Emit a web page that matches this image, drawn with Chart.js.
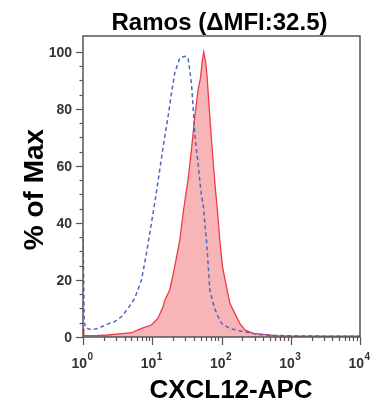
<!DOCTYPE html>
<html>
<head>
<meta charset="utf-8">
<script src="https://cdn.jsdelivr.net/npm/chart.js@4.4.1/dist/chart.umd.min.js"></script>
<style>
  html, body { margin: 0; padding: 0; background: #fff; }
  canvas { display: block; }
</style>
</head>
<body>
<canvas id="histChart" width="376" height="406"></canvas>
<script>
// Histogram data (CXCL12-APC intensity vs % of Max)
const isoX = [1.0, 1.04, 1.08, 1.32, 1.65, 2.3, 2.87, 3.59, 4.47, 5.59, 6.98, 7.36, 8.25, 9.2, 10.27, 11.24, 13.58, 15.17, 16.92, 18.94, 21.13, 24.98, 29.5, 32.9, 34.8, 36.8, 38.9, 41.1, 43.5, 45.9, 48.5, 51.4, 54.2, 57.4, 60.7, 64.0, 67.8, 75.6, 84.7, 100, 131.9, 205, 320, 499, 1000, 3000, 10000];
const isoY = [37, 6, 3.3, 2.5, 3.0, 4.6, 5.4, 7.1, 10, 13.6, 20, 22.9, 29.4, 36.4, 43.4, 49.3, 62.7, 70.3, 77.3, 85.5, 92.6, 97.9, 98.5, 97.9, 93.7, 89, 80.8, 71.5, 65.6, 61, 55.1, 49.3, 46.9, 39.9, 34, 25.9, 16.5, 11.8, 8.3, 4.8, 3.0, 1.9, 1.0, 0.6, 0.4, 0.3, 0.3];

const cxclX = [1.0, 1.03, 1.5, 2.3, 4.0, 5.0, 7.0, 9.7, 12.1, 14.3, 15.2, 17.9, 21.1, 25.0, 27.9, 31.2, 32.9, 36.8, 41.1, 45.9, 49.7, 53.1, 55.5, 59.3, 61.9, 66.2, 71.7, 77.4, 82.7, 86.4, 94.5, 103.3, 118, 132, 155.7, 183.8, 217, 286, 399, 600, 1000, 10000];
const cxclY = [3, 0.6, 0.5, 0.7, 1.3, 1.5, 3.0, 4.2, 6.6, 10.6, 13, 16.5, 24.7, 34, 43.4, 51.6, 55.1, 65.6, 77.3, 86.7, 90.8, 97.3, 100, 96, 91.4, 80.8, 69.1, 58.6, 50.4, 45.7, 34, 24.7, 17.7, 11.8, 8.3, 4.8, 2.5, 1.3, 0.9, 0.5, 0.3, 0.3];

// Axis ticks
const xTickExps = [0, 1, 2, 3, 4];
const yMajorTicks = [0, 20, 40, 60, 80, 100];
const yMinorStep = 5;

const titleText = 'Ramos (\u0394MFI:32.5)';
const xTitleText = 'CXCL12-APC';
const yTitleText = '% of Max';

const axisColor = '#555';
const labelColor = '#333';
const textFont = '"Liberation Sans", Arial, sans-serif';

function toPoints(xs, ys) {
  return xs.map((x, i) => ({ x: x, y: ys[i] }));
}

// Draw frame, ticks, tick labels and titles
const decorPlugin = {
  id: 'decor',
  afterDraw(chart) {
    const ctx = chart.ctx;
    const area = chart.chartArea;
    const xs = chart.scales.x;
    const ys = chart.scales.y;

    ctx.save();
    ctx.strokeStyle = axisColor;
    ctx.lineWidth = 1.5;

    // frame
    ctx.beginPath();
    ctx.moveTo(area.left, area.bottom);
    ctx.lineTo(area.left, area.top);
    ctx.lineTo(area.right, area.top);
    ctx.lineTo(area.right, area.bottom);
    ctx.lineTo(area.left, area.bottom);
    ctx.stroke();

    // y ticks
    ctx.lineWidth = 1.2;
    for (let v = 0; v <= 100; v += yMinorStep) {
      const py = Math.round(ys.getPixelForValue(v)) + 0.5;
      const major = yMajorTicks.includes(v);
      ctx.beginPath();
      ctx.moveTo(area.left - (major ? 7 : 3.5), py);
      ctx.lineTo(area.left, py);
      ctx.stroke();
    }

    // x ticks (log decades with minor ticks)
    for (let e = 0; e < xTickExps.length; e++) {
      const base = Math.pow(10, xTickExps[e]);
      const last = e === xTickExps.length - 1;
      for (let m = 1; m <= (last ? 1 : 9); m++) {
        const px = Math.round(xs.getPixelForValue(base * m)) + 0.5;
        const major = m === 1;
        ctx.beginPath();
        ctx.moveTo(px, area.bottom);
        ctx.lineTo(px, area.bottom + (major ? 8 : 4));
        ctx.stroke();
      }
    }

    // y tick labels
    ctx.fillStyle = labelColor;
    ctx.font = 'bold 14px ' + textFont;
    ctx.textAlign = 'right';
    ctx.textBaseline = 'middle';
    yMajorTicks.forEach(v => {
      ctx.fillText(String(v), area.left - 11, ys.getPixelForValue(v) + 1);
    });

    // x tick labels: 10 with superscript exponent
    ctx.textBaseline = 'alphabetic';
    xTickExps.forEach(e => {
      const px = xs.getPixelForValue(Math.pow(10, e));
      ctx.font = 'bold 14px ' + textFont;
      const wBase = ctx.measureText('10').width;
      ctx.font = 'bold 10px ' + textFont;
      const wExp = ctx.measureText(String(e)).width;
      const start = px - (wBase + wExp) / 2 - 1;
      ctx.textAlign = 'left';
      ctx.font = 'bold 14px ' + textFont;
      ctx.fillText('10', start, area.bottom + 31);
      ctx.font = 'bold 10px ' + textFont;
      ctx.fillText(String(e), start + wBase + 0.5, area.bottom + 23);
    });

    // titles
    ctx.fillStyle = '#000';
    ctx.textAlign = 'center';
    ctx.font = 'bold 24px ' + textFont;
    ctx.fillText(titleText, (area.left + area.right) / 2 - 2, 30);

    ctx.font = 'bold 26px ' + textFont;
    ctx.fillText(xTitleText, 231, 398);

    ctx.save();
    ctx.translate(43, (area.top + area.bottom) / 2 + 3);
    ctx.rotate(-Math.PI / 2);
    ctx.font = 'bold 28px ' + textFont;
    ctx.fillText(yTitleText, 0, 0);
    ctx.restore();

    ctx.restore();
  }
};

new Chart(document.getElementById('histChart'), {
  type: 'line',
  data: {
    datasets: [
      {
        label: 'Isotype',
        data: toPoints(isoX, isoY),
        borderColor: '#4f66c2',
        borderWidth: 1.5,
        borderDash: [4, 3],
        pointRadius: 0,
        fill: false,
        tension: 0,
        order: 0
      },
      {
        label: 'CXCL12',
        data: toPoints(cxclX, cxclY),
        borderColor: '#ef3b47',
        backgroundColor: 'rgba(247, 168, 170, 0.85)',
        borderWidth: 1.3,
        pointRadius: 0,
        fill: 'origin',
        tension: 0,
        order: 1
      }
    ]
  },
  options: {
    responsive: false,
    animation: false,
    layout: {
      padding: { left: 83, right: 16, top: 36, bottom: 69 }
    },
    plugins: {
      legend: { display: false },
      tooltip: { enabled: false },
      title: { display: false }
    },
    scales: {
      x: {
        type: 'logarithmic',
        min: 1,
        max: 10000,
        ticks: { display: false },
        grid: { display: false },
        border: { display: false },
        afterFit(scale) { scale.height = 0; }
      },
      y: {
        type: 'linear',
        min: 0,
        max: 105.6,
        ticks: { display: false },
        grid: { display: false },
        border: { display: false },
        afterFit(scale) { scale.width = 0; }
      }
    }
  },
  plugins: [decorPlugin]
});
</script>
</body>
</html>
